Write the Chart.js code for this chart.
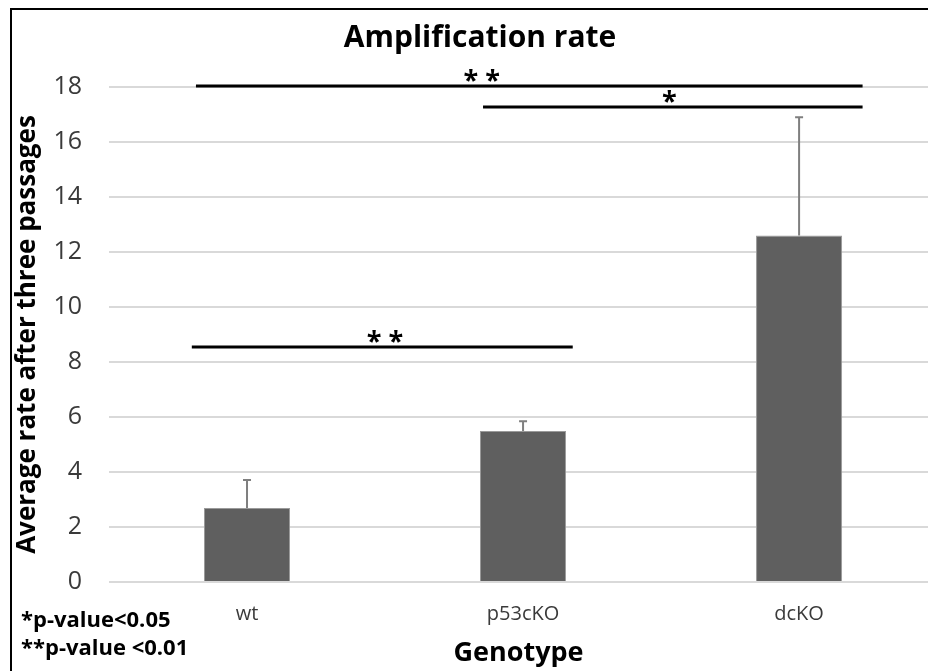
<!DOCTYPE html>
<html>
<head>
<meta charset="utf-8">
<script src="https://cdn.jsdelivr.net/npm/chart.js@4.4.0/dist/chart.umd.min.js"></script>
<style>
  html, body { margin: 0; padding: 0; background: #fff; }
  #wrap { width: 928px; height: 671px; }
</style>
</head>
<body>
<div id="wrap"><canvas id="chart" width="928" height="671"></canvas></div>
<script>
// bars
const genotypes = ['wt', 'p53cKO', 'dcKO'];
const averageRate = [2.69, 5.49, 12.6];
const errorTop = [3.71, 5.85, 16.9];

// significance bars (x in category units, y in data units)
const sigFrom = [-0.2, -0.185, 0.855];
const sigTo = [1.18, 2.23, 2.23];
const sigLevel = [8.55, 18.04, 17.27];
const sigMark = ['* *', '* *', '*'];
const sigMarkAt = [0.5, 0.85, 1.53];

const footnotes = ['*p-value<0.05', '**p-value <0.01'];
const chartTitle = 'Amplification rate';

const FONT = '"Open Sans", sans-serif';

const barData = genotypes.map((g, i) => ({ x: i, y: averageRate[i] }));
const sigSets = sigFrom.map((f, i) => ({
    type: 'line',
    data: [{ x: f, y: sigLevel[i] }, { x: sigTo[i], y: sigLevel[i] }],
    borderColor: '#000',
    borderWidth: 3,
    pointRadius: 0,
    clip: false
}));

const extras = {
    id: 'extras',
    beforeDraw(chart) {
        const ctx = chart.ctx;
        ctx.save();
        ctx.fillStyle = '#fff';
        ctx.fillRect(0, 0, chart.width, chart.height);
        ctx.restore();
    },
    afterDatasetsDraw(chart) {
        const ctx = chart.ctx;
        const xs = chart.scales.x, ys = chart.scales.y;
        ctx.save();
        // error bars
        ctx.strokeStyle = '#7f7f7f';
        ctx.lineWidth = 2;
        errorTop.forEach((v, i) => {
            const x = xs.getPixelForValue(i);
            const y0 = ys.getPixelForValue(averageRate[i]);
            const y1 = ys.getPixelForValue(v);
            ctx.beginPath();
            ctx.moveTo(x, y0);
            ctx.lineTo(x, y1);
            ctx.moveTo(x - 4, y1);
            ctx.lineTo(x + 4, y1);
            ctx.stroke();
        });
        // significance marks
        ctx.fillStyle = '#000';
        ctx.font = 'bold 27px ' + FONT;
        ctx.textAlign = 'center';
        ctx.textBaseline = 'alphabetic';
        sigMark.forEach((m, i) => {
            ctx.fillText(m, xs.getPixelForValue(sigMarkAt[i]), ys.getPixelForValue(sigLevel[i]) + 3);
        });
        ctx.restore();
    },
    afterDraw(chart) {
        const ctx = chart.ctx;
        ctx.save();
        // frame
        ctx.strokeStyle = '#000';
        ctx.lineWidth = 2;
        ctx.beginPath();
        ctx.moveTo(11, chart.height);
        ctx.lineTo(11, 9);
        ctx.lineTo(chart.width, 9);
        ctx.stroke();
        // title
        ctx.fillStyle = '#000';
        ctx.font = 'bold 30px ' + FONT;
        ctx.textAlign = 'center';
        ctx.textBaseline = 'alphabetic';
        ctx.fillText(chartTitle, 480, 47);
        // footnotes
        ctx.font = 'bold 22px ' + FONT;
        ctx.textAlign = 'left';
        ctx.fillText(footnotes[0], 21, 627);
        ctx.fillText(footnotes[1], 21, 655);
        ctx.restore();
    }
};

new Chart(document.getElementById('chart'), {
    type: 'bar',
    data: {
        datasets: [
            {
                data: barData,
                backgroundColor: '#5f5f5f',
                borderColor: '#9a9a9a',
                borderWidth: 1,
                categoryPercentage: 1,
                barPercentage: 0.312
            },
            ...sigSets
        ]
    },
    options: {
        responsive: false,
        animation: false,
        devicePixelRatio: 1,
        layout: { padding: { left: 12, top: 87, right: 0, bottom: 0 } },
        plugins: {
            legend: { display: false },
            tooltip: { enabled: false },
            title: { display: false }
        },
        scales: {
            x: {
                type: 'linear',
                offset: false,
                min: -0.5,
                max: 2.467,
                grid: { display: false, drawTicks: false },
                border: { display: false },
                afterBuildTicks(scale) {
                    scale.ticks = genotypes.map((g, i) => ({ value: i }));
                },
                afterFit(scale) { scale.height = 89; },
                ticks: {
                    autoSkip: false,
                    maxRotation: 0,
                    padding: 20,
                    color: '#3a3a3a',
                    font: { family: FONT, size: 20 },
                    callback: (v) => genotypes[v]
                },
                title: {
                    display: true,
                    text: 'Genotype',
                    color: '#000',
                    font: { family: FONT, size: 27, weight: 'bold' },
                    padding: { top: 0, bottom: 1 }
                }
            },
            y: {
                min: 0,
                max: 18,
                grid: { color: '#d9d9d9', lineWidth: 2, drawTicks: false },
                border: { display: false },
                afterFit(scale) { scale.width = 97; },
                ticks: {
                    stepSize: 2,
                    padding: 27,
                    color: '#3a3a3a',
                    font: { family: FONT, size: 25 }
                },
                title: {
                    display: true,
                    text: 'Average rate after three passages',
                    color: '#000',
                    font: { family: FONT, size: 26, weight: 'bold' },
                    padding: { top: 0, bottom: 0 }
                }
            }
        }
    },
    plugins: [extras]
});
</script>
</body>
</html>
